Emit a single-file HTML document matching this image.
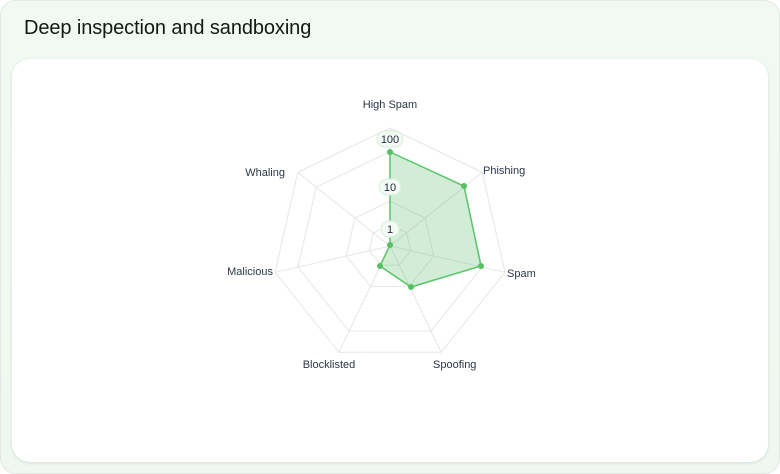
<!DOCTYPE html>
<html><head><meta charset="utf-8"><style>
html,body{margin:0;padding:0;background:#fff;}
body{width:780px;height:474px;position:relative;overflow:hidden;font-family:"Liberation Sans",sans-serif;}
.outer{position:absolute;left:0;top:0;width:778px;height:472px;border:1px solid #e2e8e4;border-radius:16px;background:linear-gradient(180deg,#f1f9f2 0%,#eff8f0 100%);}
.title{position:absolute;left:24px;top:17px;font-size:20px;color:#101a14;letter-spacing:-0.1px;}
.inner{position:absolute;left:12px;top:59px;width:756px;height:403px;background:#fff;border-radius:18px;box-shadow:0 1px 3px rgba(0,0,0,0.12);}
svg{position:absolute;left:0;top:0;}
</style></head><body>
<div class="outer"></div>
<div class="title">Deep inspection and sandboxing</div>
<div class="inner"></div>
<svg width="780" height="474" viewBox="0 0 780 474">
<g fill="none" stroke="#e6e6e6" stroke-width="1" id="grid"></g>
<polygon points="390,152 464,186 481,266 411,287 380,266 390,245 390,245" fill="rgba(76,185,90,0.25)" stroke="#5cc46a" stroke-width="1.5"/>
<g fill="#55c064">
<circle cx="390" cy="152" r="3"/><circle cx="464" cy="186" r="3"/><circle cx="481" cy="266" r="3"/><circle cx="411" cy="287" r="3"/><circle cx="380" cy="266" r="3"/><circle cx="390" cy="245" r="3"/>
</g>
<g font-size="11" fill="#1f2a3a" text-anchor="middle">
<rect x="377" y="131" width="26" height="16" rx="8" fill="#f3faf4" stroke="#d6eed9"/>
<text x="390" y="143">100</text>
<rect x="379" y="179" width="22" height="16" rx="8" fill="#f3faf4" stroke="#d6eed9"/>
<text x="390" y="191">10</text>
<rect x="381" y="221" width="18" height="16" rx="8" fill="#f3faf4" stroke="#d6eed9"/>
<text x="390" y="233">1</text>
</g>
<g font-size="11" fill="#2c3648">
<text x="390" y="108" text-anchor="middle">High Spam</text>
<text x="483" y="174">Phishing</text>
<text x="507" y="277">Spam</text>
<text x="433" y="368">Spoofing</text>
<text x="329" y="368" text-anchor="middle">Blocklisted</text>
<text x="273" y="275" text-anchor="end">Malicious</text>
<text x="285" y="176" text-anchor="end">Whaling</text>
</g>
</svg>
<script>
var g=document.getElementById('grid'),cx=390,cy=246,R=118,rs=[0.18,0.38,0.8,1.0],s='';
for(var k=0;k<rs.length;k++){var p=[];for(var i=0;i<7;i++){var a=i*2*Math.PI/7;p.push((cx+R*rs[k]*Math.sin(a)).toFixed(1)+','+(cy-R*rs[k]*Math.cos(a)).toFixed(1));}s+='<polygon points="'+p.join(' ')+'"/>';}
for(var i=0;i<7;i++){var a=i*2*Math.PI/7;s+='<line x1="'+cx+'" y1="'+cy+'" x2="'+(cx+R*Math.sin(a)).toFixed(1)+'" y2="'+(cy-R*Math.cos(a)).toFixed(1)+'"/>';}
g.innerHTML=s;
</script>
</body></html>
